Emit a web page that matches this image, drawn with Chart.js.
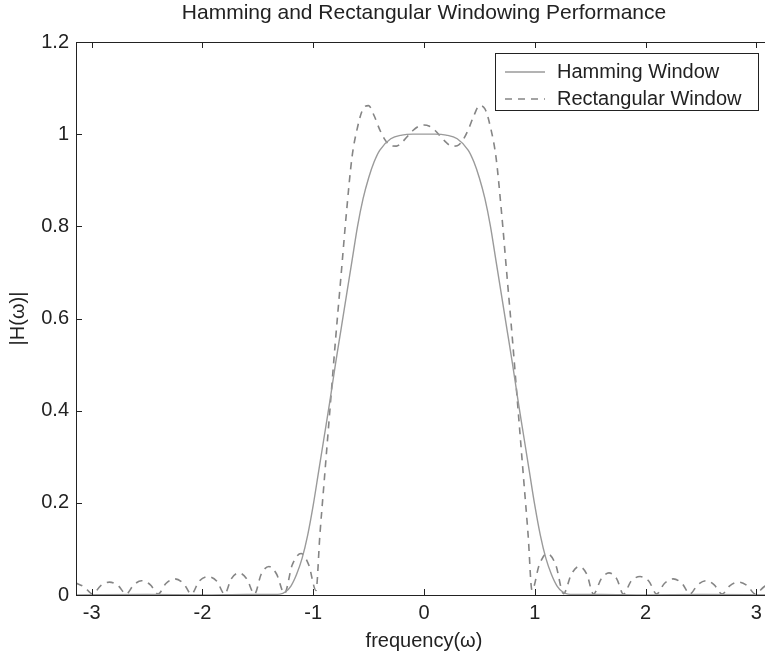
<!DOCTYPE html>
<html>
<head>
<meta charset="utf-8">
<script src="https://cdn.jsdelivr.net/npm/chart.js@4.4.1/dist/chart.umd.min.js"></script>
<style>
  html, body { margin: 0; padding: 0; background: #fff; overflow: hidden; }
  #wrap { width: 780px; height: 659px; }
</style>
</head>
<body>
<div id="wrap"><canvas id="myChart" width="780" height="659"></canvas></div>
<script>
const xTicks = [-3, -2, -1, 0, 1, 2, 3];
const yTicks = [0, 0.2, 0.4, 0.6, 0.8, 1, 1.2];

// |H(w)| with the hamming window
const hammingW = [-3.1416, -2.5, -2.0, -1.6, -1.4, -1.3, -1.25, -1.2, -1.15, -1.1, -1.05, -1.0,
  -0.95, -0.9, -0.85, -0.8, -0.75, -0.7, -0.65, -0.6, -0.55, -0.5, -0.45, -0.4, -0.3, -0.2, -0.1,
  0,
  0.1, 0.2, 0.3, 0.4, 0.45, 0.5, 0.55, 0.6, 0.65, 0.7, 0.75, 0.8, 0.85, 0.9, 0.95,
  1.0, 1.05, 1.1, 1.15, 1.2, 1.25, 1.3, 1.4, 1.6, 2.0, 2.5, 3.1416];
const hammingH = [0, 0.001, 0, 0.001, 0.001, 0.002, 0.007, 0.02, 0.045, 0.08, 0.13, 0.195,
  0.27, 0.345, 0.42, 0.5, 0.575, 0.65, 0.725, 0.8, 0.86, 0.905, 0.94, 0.965, 0.99, 0.998, 1.0,
  1.0,
  1.0, 0.998, 0.99, 0.965, 0.94, 0.905, 0.86, 0.8, 0.725, 0.65, 0.575, 0.5, 0.42, 0.345, 0.27,
  0.195, 0.13, 0.08, 0.045, 0.02, 0.007, 0.002, 0.001, 0.001, 0, 0.001, 0];

// |H(w)| with the rectangular window
const rectW = [-3.1416, -3.07, -2.99, -2.92, -2.84, -2.76, -2.69, -2.62, -2.55, -2.47,
  -2.40, -2.33, -2.25, -2.17, -2.10, -2.03, -1.95, -1.87, -1.80, -1.74, -1.67, -1.60,
  -1.53, -1.47, -1.40, -1.33, -1.26, -1.19, -1.11, -1.04, -0.975, -0.94, -0.9, -0.85,
  -0.8, -0.75, -0.7, -0.65, -0.6, -0.55, -0.5, -0.45, -0.4, -0.35, -0.3, -0.25, -0.2,
  -0.15, -0.1, -0.05,
  0,
  0.05, 0.1, 0.15, 0.2, 0.25, 0.3, 0.35, 0.4, 0.45, 0.5, 0.55, 0.6, 0.65, 0.7, 0.75,
  0.8, 0.85, 0.9, 0.94, 0.975, 1.04, 1.11, 1.19, 1.26, 1.33, 1.40, 1.47, 1.53, 1.60,
  1.67, 1.74, 1.80, 1.87, 1.95, 2.03, 2.10, 2.17, 2.25, 2.33, 2.40, 2.47, 2.55, 2.62,
  2.69, 2.76, 2.84, 2.92, 2.99, 3.07, 3.1416];
const rectH = [0.026, 0.018, 0.002, 0.02, 0.028, 0.02, 0.002, 0.022, 0.031, 0.022,
  0.002, 0.025, 0.035, 0.025, 0.002, 0.03, 0.04, 0.03, 0.002, 0.035, 0.048, 0.035,
  0.002, 0.045, 0.062, 0.045, 0.003, 0.065, 0.09, 0.065, 0.01, 0.13, 0.25, 0.4,
  0.55, 0.69, 0.83, 0.95, 1.015, 1.055, 1.062, 1.04, 1.01, 0.987, 0.975, 0.974, 0.982,
  0.995, 1.008, 1.017,
  1.02,
  1.017, 1.008, 0.995, 0.982, 0.974, 0.975, 0.987, 1.01, 1.04, 1.062, 1.055, 1.015, 0.95, 0.83, 0.69,
  0.55, 0.4, 0.25, 0.13, 0.01, 0.065, 0.09, 0.065, 0.003, 0.045, 0.062, 0.045, 0.002, 0.035,
  0.048, 0.035, 0.002, 0.03, 0.04, 0.03, 0.002, 0.025, 0.035, 0.025, 0.002, 0.022, 0.031, 0.022,
  0.002, 0.02, 0.028, 0.02, 0.002, 0.018, 0.026];

function toPoints(ws, hs) {
  return ws.map((w, i) => ({ x: w, y: hs[i] }));
}

const FONT = "'Liberation Sans', Arial, Helvetica, sans-serif";
const INK = '#222';

// axes box with inward tick marks on every side
const axesBox = {
  id: 'axesBox',
  afterDatasetsDraw(chart) {
    const { ctx, chartArea: a, scales } = chart;
    ctx.save();
    ctx.strokeStyle = INK;
    ctx.lineWidth = 1;
    ctx.strokeRect(a.left + 0.5, a.top + 0.5, a.right - a.left, a.bottom - a.top);
    ctx.beginPath();
    xTicks.forEach(v => {
      const px = Math.round(scales.x.getPixelForValue(v)) + 0.5;
      ctx.moveTo(px, a.bottom); ctx.lineTo(px, a.bottom - 6);
      ctx.moveTo(px, a.top); ctx.lineTo(px, a.top + 6);
    });
    yTicks.forEach(v => {
      const py = Math.round(scales.y.getPixelForValue(v)) + 0.5;
      ctx.moveTo(a.left, py); ctx.lineTo(a.left + 6, py);
      ctx.moveTo(a.right, py); ctx.lineTo(a.right - 6, py);
    });
    ctx.stroke();
    ctx.restore();
  }
};

// boxed legend in the upper right corner
const boxLegend = {
  id: 'boxLegend',
  afterDraw(chart) {
    const { ctx } = chart;
    const x0 = 495, y0 = 53, w = 263, h = 57;
    ctx.save();
    ctx.fillStyle = '#fff';
    ctx.fillRect(x0, y0, w, h);
    ctx.strokeStyle = INK;
    ctx.lineWidth = 1;
    ctx.strokeRect(x0 + 0.5, y0 + 0.5, w, h);
    chart.data.datasets.forEach((ds, i) => {
      const y = y0 + 19 + i * 27;
      ctx.strokeStyle = ds.borderColor;
      ctx.lineWidth = ds.borderWidth;
      ctx.setLineDash(ds.borderDash || []);
      ctx.beginPath();
      ctx.moveTo(x0 + 10, y);
      ctx.lineTo(x0 + 50, y);
      ctx.stroke();
      ctx.setLineDash([]);
      ctx.fillStyle = INK;
      ctx.font = '20px ' + FONT;
      ctx.textBaseline = 'middle';
      ctx.fillText(ds.label, x0 + 62, y);
    });
    ctx.restore();
  }
};

new Chart(document.getElementById('myChart'), {
  type: 'line',
  data: {
    datasets: [{
      label: 'Hamming Window',
      data: toPoints(hammingW, hammingH),
      borderColor: '#9a9a9a',
      borderWidth: 1.4,
      pointRadius: 0,
      cubicInterpolationMode: 'monotone'
    }, {
      label: 'Rectangular Window',
      data: toPoints(rectW, rectH),
      borderColor: '#858585',
      borderWidth: 1.6,
      borderDash: [7, 6],
      pointRadius: 0,
      cubicInterpolationMode: 'monotone'
    }]
  },
  options: {
    responsive: false,
    animation: false,
    devicePixelRatio: 1,
    layout: { padding: { right: 8 } },
    plugins: { legend: { display: false }, title: { display: false }, tooltip: { enabled: false } },
    scales: {
      x: {
        type: 'linear',
        position: 'bottom',
        min: -Math.PI,
        max: Math.PI,
        afterBuildTicks: s => { s.ticks = xTicks.map(v => ({ value: v })); },
        afterFit: s => { s.height = 64; },
        grid: { display: false, drawTicks: false },
        border: { display: false },
        ticks: { color: INK, font: { family: FONT, size: 20 }, padding: 6, maxRotation: 0 },
        title: { display: true, text: 'frequency(ω)', color: INK, font: { family: FONT, size: 20 }, padding: { top: 0, bottom: 6 } }
      },
      top: {
        type: 'linear',
        position: 'top',
        min: -Math.PI,
        max: Math.PI,
        afterFit: s => { s.height = 42; },
        grid: { display: false, drawTicks: false },
        border: { display: false },
        ticks: { display: false },
        title: { display: true, text: 'Hamming and Rectangular Windowing Performance', color: INK, font: { family: FONT, size: 21 }, padding: { top: 1, bottom: 0 } }
      },
      y: {
        min: 0,
        max: 1.2,
        afterBuildTicks: s => { s.ticks = yTicks.map(v => ({ value: v })); },
        afterFit: s => { s.width = 76; },
        grid: { display: false, drawTicks: false },
        border: { display: false },
        ticks: { color: INK, font: { family: FONT, size: 20 }, padding: 7, callback: v => String(v) },
        title: { display: true, text: '|H(ω)|', color: INK, font: { family: FONT, size: 20 }, padding: { top: 6, bottom: 0 } }
      }
    }
  },
  plugins: [axesBox, boxLegend]
});
</script>
</body>
</html>
